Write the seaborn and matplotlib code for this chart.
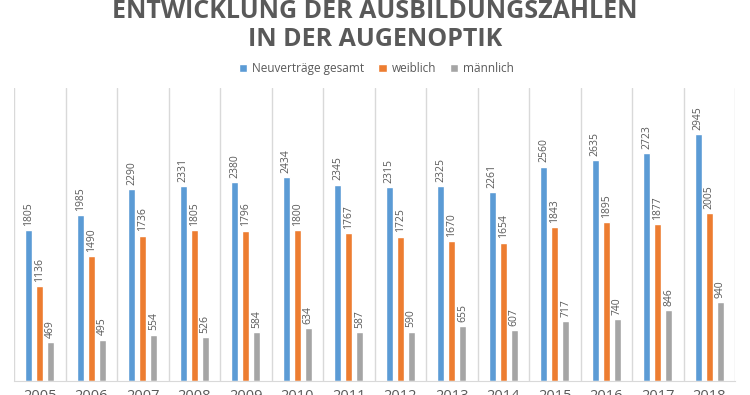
import pandas as pd
import seaborn as sns
import matplotlib.pyplot as plt
from matplotlib.ticker import FixedLocator

years = ['2005', '2006', '2007', '2008', '2009', '2010', '2011',
         '2012', '2013', '2014', '2015', '2016', '2017', '2018']
gesamt = [1805, 1985, 2290, 2331, 2380, 2434, 2345, 2315, 2325, 2261, 2560, 2635, 2723, 2945]
weiblich = [1136, 1490, 1736, 1805, 1796, 1800, 1767, 1725, 1670, 1654, 1843, 1895, 1877, 2005]
maennlich = [469, 495, 554, 526, 584, 634, 587, 590, 655, 607, 717, 740, 846, 940]

series = ['Neuverträge gesamt', 'weiblich', 'männlich']
colors = ['#5B9BD5', '#ED7D31', '#A5A5A5']
TEXT = '#595959'

df = pd.DataFrame({'Jahr': years * 3,
                   'Serie': [s for s in series for _ in years],
                   'Anzahl': gesamt + weiblich + maennlich})

sns.set_style('white')
plt.rcParams['font.family'] = ['Open Sans', 'DejaVu Sans']

fig = plt.figure(figsize=(7.5, 3.95), dpi=100)
ax = fig.add_axes([0.0187, 0.0354, 0.9613, 0.742])

sns.barplot(data=df, x='Jahr', y='Anzahl', hue='Serie', hue_order=series,
            palette=colors, width=0.64, gap=0.4, saturation=1, ax=ax)

for cont in ax.containers:
    ax.bar_label(cont, rotation=90, padding=3, color=TEXT, fontsize=7.5)

ax.set_ylim(0, 3500)
ax.set_xlim(-0.5, len(years) - 0.5)
ax.set_yticks([])
ax.set_xlabel('')
ax.set_ylabel('')

# vertical separators between the categories
ax.xaxis.set_minor_locator(FixedLocator([i - 0.5 for i in range(len(years) + 1)]))
ax.grid(which='minor', axis='x', color='#D9D9D9', linewidth=1)
ax.tick_params(axis='x', which='both', length=0)
ax.tick_params(axis='x', which='major', pad=6, labelsize=10.5, labelcolor=TEXT)

for side in ['top', 'right', 'left']:
    ax.spines[side].set_visible(False)
ax.spines['bottom'].set_color('#D9D9D9')

ax.legend(loc='center', bbox_to_anchor=(0.502, 0.826), bbox_transform=fig.transFigure,
          ncol=3, frameon=False, fontsize=8.5, labelcolor=TEXT, handlelength=0.7,
          handleheight=0.7, handletextpad=0.4, columnspacing=1.2)

fig.text(0.5, 0.971, 'ENTWICKLUNG DER AUSBILDUNGSZAHLEN',
         ha='center', va='center', fontsize=18, fontweight='bold', color=TEXT)
fig.text(0.5, 0.899, 'IN DER AUGENOPTIK',
         ha='center', va='center', fontsize=18, fontweight='bold', color=TEXT)

fig.savefig('out.png', dpi=100)
